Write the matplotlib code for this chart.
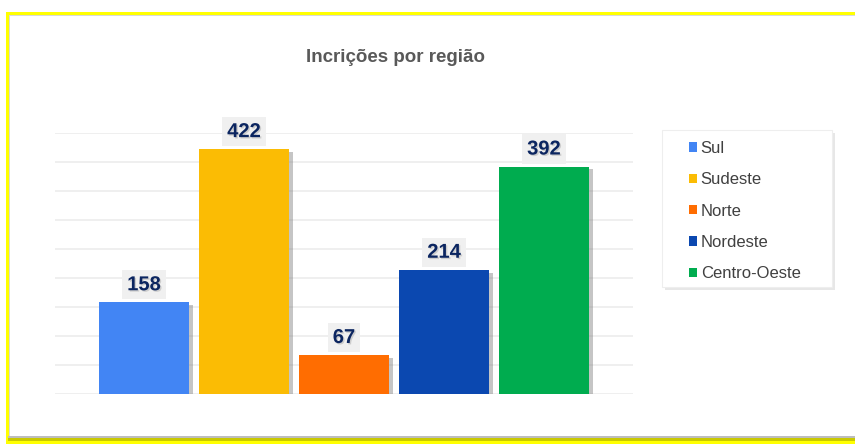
import matplotlib.pyplot as plt
from matplotlib.patches import Rectangle
import matplotlib.patheffects as pe

regioes = ["Sul", "Sudeste", "Norte", "Nordeste", "Centro-Oeste"]
inscricoes = [158, 422, 67, 214, 392]
cores = ["#4285f4", "#fbbc04", "#ff6d01", "#0b48b0", "#00ac4f"]

plt.rcParams['font.family'] = ['Liberation Sans', 'DejaVu Sans']

W, H = 855, 444
fig = plt.figure(figsize=(W / 100, H / 100), dpi=100)

def px(x, y, w, h):
    # pixel box (top-left origin) -> figure fraction
    return (x / W, 1 - (y + h) / H, w / W, h / H)

def caixa(x, y, w, h, cor, z=0, borda=None, efeitos=None):
    b = px(x, y, w, h)
    r = Rectangle(b[:2], b[2], b[3], transform=fig.transFigure, facecolor=cor,
                  edgecolor=borda or "none", linewidth=0.8, zorder=z)
    if efeitos:
        r.set_path_effects(efeitos)
    fig.patches.append(r)

# moldura amarela + painel branco
caixa(6, 12, 860, 440, "#ffff00")
caixa(9, 15, 860, 425, "#d9d9d9")
caixa(8, 436, 860, 5, "#c9c900")
caixa(8, 436, 860, 2, "#bdbdbd")
caixa(10, 16, 860, 420, "white")

# caixa da legenda
caixa(662, 130, 170, 157, "white", z=1, borda="#eeeeee",
      efeitos=[pe.SimplePatchShadow(offset=(2, -2), shadow_rgbFace="#bbbbbb", alpha=0.35),
               pe.SimplePatchShadow(offset=(1, -1), shadow_rgbFace="#aaaaaa", alpha=0.35),
               pe.Normal()])

ax = fig.add_axes(px(55, 133, 578, 261))
ax.set_zorder(2)
ax.set_facecolor("none")

x = list(range(len(regioes)))
sombra = [pe.SimplePatchShadow(offset=(3, -2), shadow_rgbFace="#7f7f7f", alpha=0.45), pe.Normal()]
barras = ax.bar(x, inscricoes, width=0.9, color=cores, zorder=3, label=regioes)
for b in barras:
    b.set_path_effects(sombra)

for xi, v in zip(x, inscricoes):
    ax.text(xi, v + 14, str(v), ha="center", va="bottom", fontsize=14.5,
            fontweight="bold", color="#0b2560", zorder=4,
            bbox=dict(boxstyle="square,pad=0.25", fc="#f0f0f0", ec="none"),
            path_effects=[pe.SimplePatchShadow(offset=(1, -1), shadow_rgbFace="#7f7f7f", alpha=0.3), pe.Normal()])

ax.set_xlim(-0.89, 4.89)
ax.set_ylim(0, 450)
ax.set_yticks(range(0, 451, 50))
ax.grid(axis="y", color="#ececec", linewidth=1.2, zorder=0)
ax.tick_params(left=False, bottom=False, labelleft=False, labelbottom=False)
for s in ax.spines.values():
    s.set_visible(False)

fig.text(395 / W, 1 - 57 / H, "Incrições por região", ha="center", va="center",
         fontsize=13.5, fontweight="bold", color="#595959", zorder=3)

leg = ax.legend(handles=list(barras), labels=regioes, loc="upper left",
                bbox_to_anchor=(689 / W, 1 - 141 / H), bbox_transform=fig.transFigure,
                fontsize=12, frameon=False, handlelength=0.5,
                handleheight=0.5, handletextpad=0.2, labelspacing=0.98,
                borderpad=0, borderaxespad=0, labelcolor="#404040")
for h in leg.legend_handles:
    h.set_path_effects([])

fig.savefig("out.png", dpi=100)
